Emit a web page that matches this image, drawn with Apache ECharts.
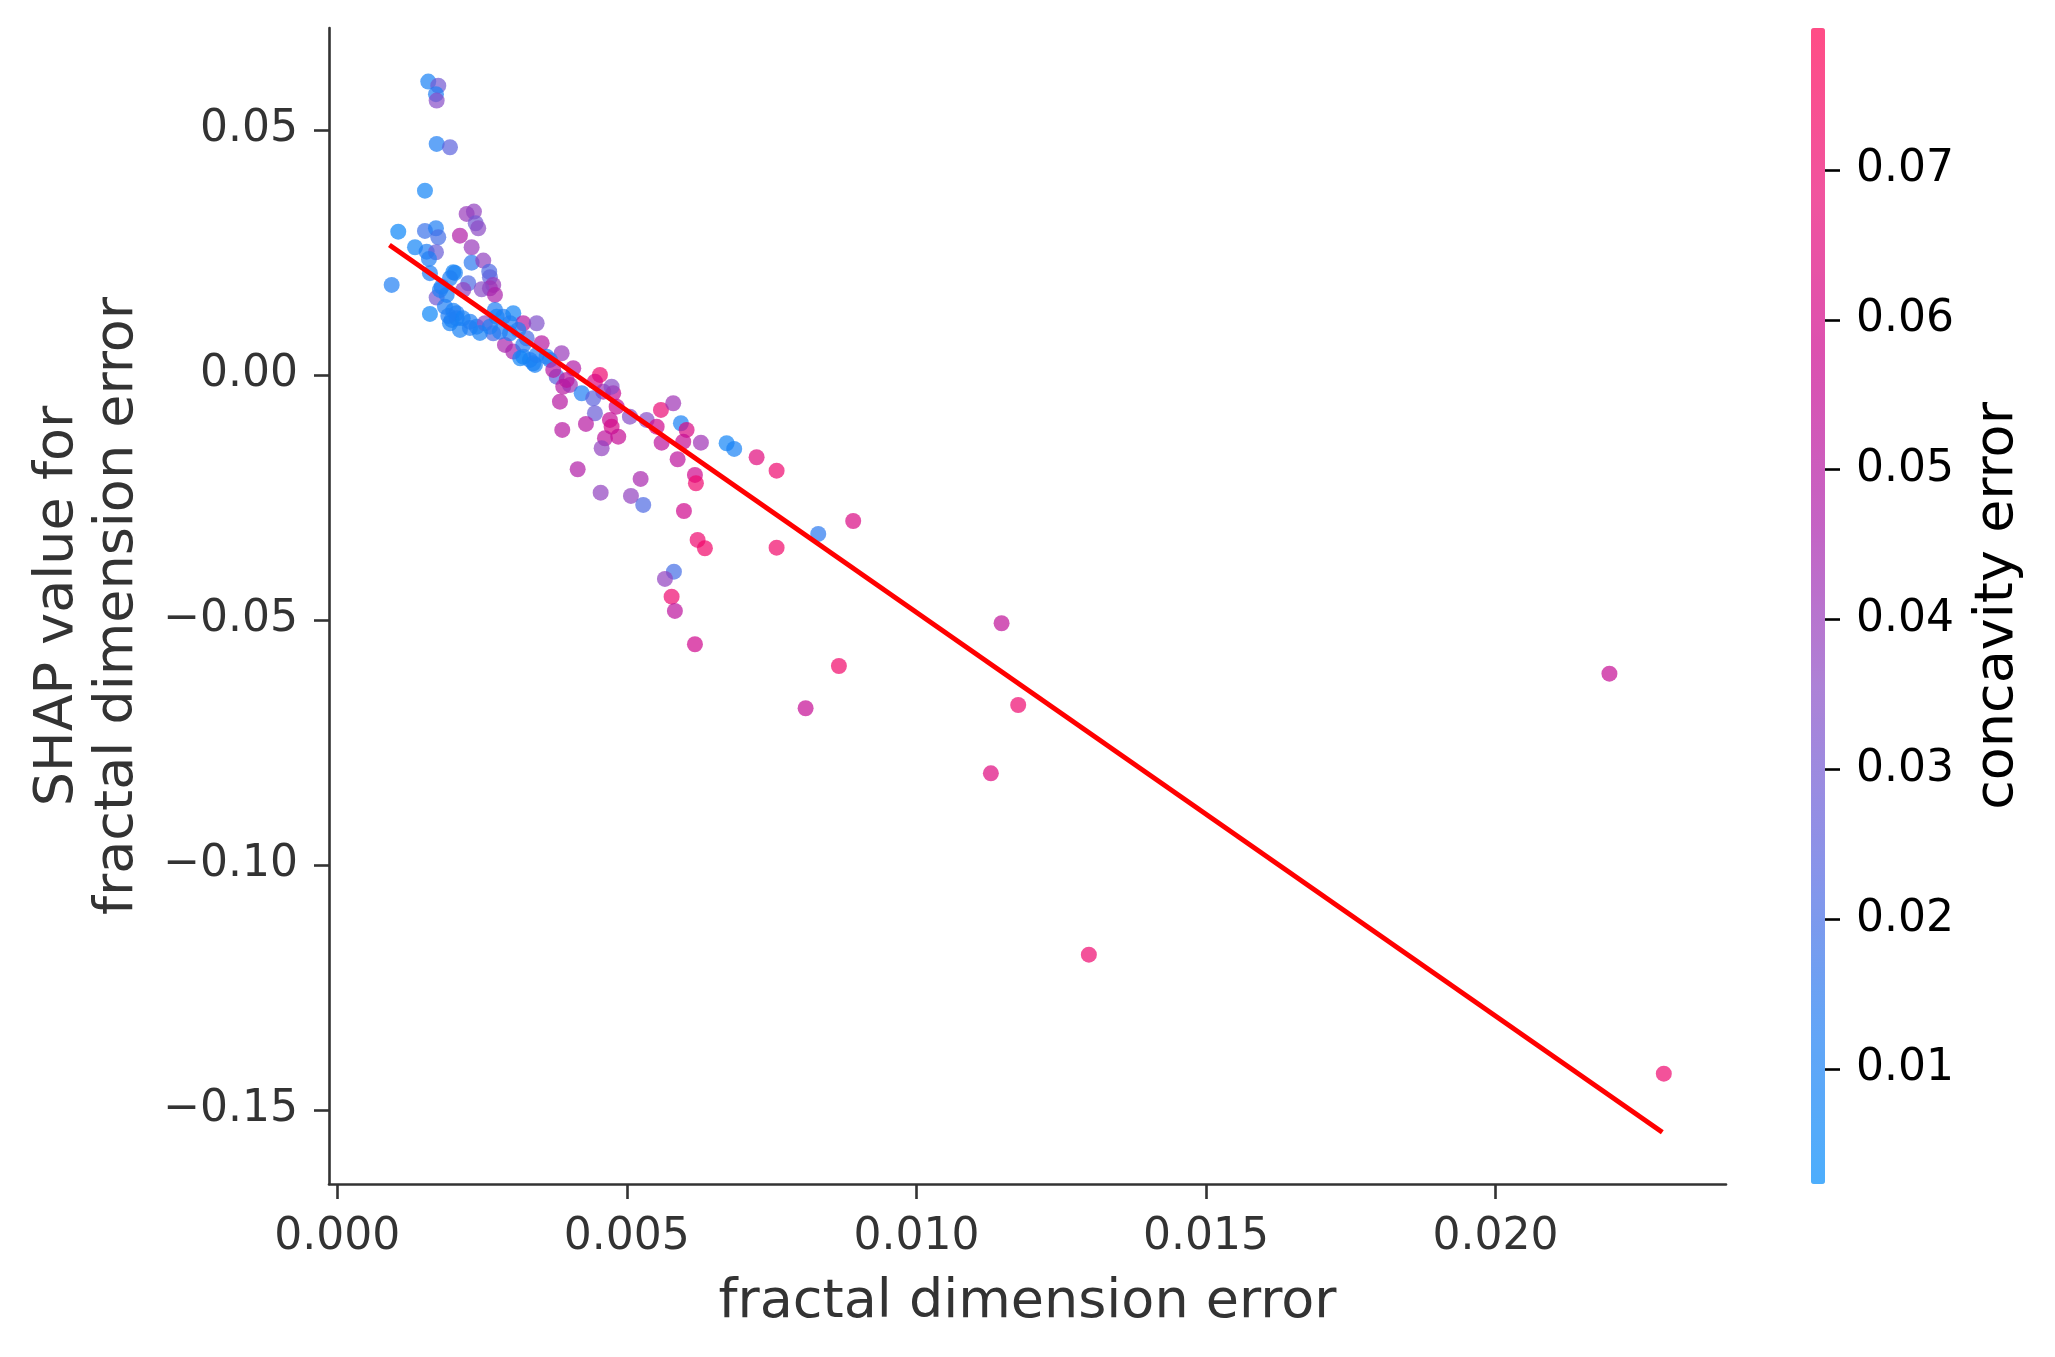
<!DOCTYPE html>
<html>
<head>
<meta charset="utf-8">
<script src="https://cdn.jsdelivr.net/npm/echarts@6/dist/echarts.min.js"></script>
<style>
html,body{margin:0;padding:0;background:#fff;}
#chart{width:2055px;height:1357px;}
</style>
</head>
<body>
<div id="chart"></div>
<script>
// fractal dimension error (x), SHAP value (y), concavity error (colour)
const fractalDim = [
0.001571,0.001744,0.001704,0.001716,0.001716,0.001946,0.001514,0.001053,0.002234,0.00236,
0.00239,0.002434,0.002118,0.001514,0.001704,0.001744,0.001342,0.00232,0.001543,0.001704,
0.001583,0.00232,0.002521,0.002624,0.002636,0.0016,0.002003,0.000939,0.002262,0.002693,
0.002636,0.002493,0.002175,0.001716,0.001802,0.001889,0.002723,0.0016,0.001859,0.002003,
0.001946,0.002118,0.002061,0.002291,0.002407,0.00255,0.002723,0.002866,0.003039,0.002693,
0.002895,0.003039,0.003211,0.003443,0.00327,0.003211,0.003327,0.003529,0.003874,0.004075,
0.004536,0.002982,0.003672,0.003413,0.003788,0.003902,0.004018,0.003845,0.004449,0.004593,
0.004765,0.004737,0.00422,0.00442,0.004449,0.004824,0.005053,0.004708,0.004737,0.004622,
0.004852,0.004565,0.004294,0.003885,0.005342,0.005515,0.005589,0.005801,0.005934,0.006032,
0.005974,0.005601,0.006279,0.006723,0.006854,0.005877,0.007241,0.007586,0.006176,0.006193,
0.005238,0.004151,0.004548,0.005071,0.005283,0.005986,0.006222,0.006348,0.007586,0.005813,
0.005658,0.005773,0.00583,0.006176,0.008909,0.008305,0.011471,0.008662,0.008087,0.011758,
0.011286,0.012978,0.021967,0.022906,0.002032,0.001773,0.001946,0.001975,0.002061,0.002636,
0.002752,0.002982,0.002809,0.003125,0.003211,0.003384,0.003443,0.003615,0.003729,0.003961,
0.003159,0.002166,0.002291,0.002464,0.001917
];
const shapValue = [
0.05986,0.05904,0.05729,0.05598,0.04714,0.04647,0.03761,0.02924,0.03286,0.03333,
0.03096,0.02994,0.02843,0.02939,0.02994,0.0281,0.02606,0.02606,0.02516,0.02504,
0.02367,0.02292,0.02333,0.02108,0.01994,0.02076,0.02096,0.01837,0.01871,0.01837,
0.01769,0.01749,0.01735,0.01578,0.01802,0.01633,0.01633,0.01245,0.01394,0.01312,
0.01055,0.00918,0.01157,0.01088,0.00986,0.01055,0.01327,0.0119,0.01259,0.00851,
0.00612,0.00476,0.01055,0.01055,0.00749,0.00373,0.00306,0.00647,0.00443,0.00137,
0.0,0.00851,0.00306,0.00204,-0.00035,-0.00239,-0.00204,-0.00545,-0.00137,-0.00341,
-0.00373,-0.00239,-0.00373,-0.00476,-0.00782,-0.00647,-0.00851,-0.00918,-0.01055,-0.01292,
-0.01259,-0.01496,-0.01,-0.01122,-0.00918,-0.01055,-0.00714,-0.00578,-0.00986,-0.01122,
-0.01361,-0.01382,-0.01382,-0.01394,-0.0151,-0.0172,-0.0168,-0.01953,-0.02041,-0.0221,
-0.02122,-0.01924,-0.02402,-0.02469,-0.02653,-0.02776,-0.03367,-0.03537,-0.03524,-0.04014,
-0.04163,-0.04524,-0.04816,-0.05496,-0.0298,-0.03245,-0.05067,-0.05939,-0.06802,-0.06735,
-0.08129,-0.1183,-0.06096,-0.14259,0.02082,0.01735,0.01973,0.01122,0.01259,0.00986,
0.0119,0.01055,0.00884,0.00918,0.00612,0.00239,0.00408,0.00373,0.00102,-0.00102,
0.00341,0.01157,0.00959,0.00857,0.01204
];
const concavity = [
0.010,0.030,0.012,0.035,0.012,0.025,0.008,0.006,0.040,0.038,
0.030,0.036,0.048,0.018,0.012,0.020,0.008,0.040,0.012,0.028,
0.012,0.015,0.038,0.022,0.025,0.012,0.008,0.012,0.022,0.040,
0.042,0.035,0.038,0.030,0.012,0.010,0.046,0.006,0.012,0.010,
0.010,0.010,0.012,0.012,0.012,0.035,0.012,0.012,0.008,0.022,
0.045,0.045,0.050,0.033,0.022,0.008,0.012,0.050,0.040,0.048,
0.070,0.012,0.012,0.010,0.025,0.050,0.042,0.050,0.062,0.042,
0.055,0.035,0.012,0.025,0.028,0.055,0.035,0.055,0.060,0.052,
0.055,0.038,0.050,0.050,0.035,0.058,0.068,0.042,0.010,0.062,
0.055,0.052,0.042,0.008,0.010,0.052,0.065,0.070,0.058,0.070,
0.045,0.048,0.038,0.038,0.022,0.058,0.070,0.072,0.072,0.020,
0.038,0.070,0.052,0.058,0.062,0.015,0.053,0.072,0.055,0.070,
0.064,0.070,0.055,0.070,0.010,0.012,0.012,0.010,0.012,0.012,
0.010,0.012,0.012,0.012,0.014,0.010,0.012,0.012,0.050,0.052,
0.008,0.010,0.012,0.010,0.012
];
// fitted trend line endpoints
const trendX = [0.00090, 0.02288];
const trendY = [0.02653, -0.15455];
// tick labels
const xTicks = [0, 0.005, 0.010, 0.015, 0.020];
const yTicks = [-0.15, -0.10, -0.05, 0.00, 0.05];
const cTicks = [0.01, 0.02, 0.03, 0.04, 0.05, 0.06, 0.07];
const cMin = 0.00232, cMax = 0.07948;

const pts = fractalDim.map((x, i) => [x, shapValue[i], concavity[i]]);
const trend = trendX.map((x, i) => [x, trendY[i]]);

const FONT = 'DejaVu Sans';
const minus = s => s.replace('-', '\u2212');

const chart = echarts.init(document.getElementById('chart'), null, {renderer: 'canvas'});
chart.setOption({
  animation: false,
  backgroundColor: '#ffffff',
  textStyle: {fontFamily: FONT},
  grid: [
    {left: 329, top: 28, right: 329, bottom: 173, containLabel: false},
    {left: 1811, top: 28, width: 14, height: 1156, containLabel: false, z: 5}
  ],
  xAxis: [{
    type: 'value', gridIndex: 0, min: -0.000143, max: 0.02398,
    axisLine: {show: true, onZero: false, lineStyle: {color: '#333333', width: 2.6}},
    axisTick: {show: true, length: 15, customValues: xTicks, lineStyle: {color: '#333333', width: 2.6}},
    axisLabel: {customValues: xTicks, formatter: v => minus(v.toFixed(3)), color: '#333333', fontSize: 44, fontFamily: FONT, margin: 32},
    splitLine: {show: false},
    name: 'fractal dimension error', nameLocation: 'middle', nameGap: 92,
    nameTextStyle: {fontSize: 54, color: '#333333', fontFamily: FONT}
  }, {
    type: 'value', gridIndex: 1, min: 0, max: 1, show: false
  }],
  yAxis: [{
    type: 'value', gridIndex: 0, min: -0.1651, max: 0.0708,
    axisLine: {show: true, onZero: false, lineStyle: {color: '#333333', width: 2.6}},
    axisTick: {show: true, length: 15, customValues: yTicks, lineStyle: {color: '#333333', width: 2.6}},
    axisLabel: {customValues: yTicks, formatter: v => minus(v.toFixed(2)), color: '#333333', fontSize: 44, fontFamily: FONT, margin: 31},
    splitLine: {show: false},
    name: 'SHAP value for\nfractal dimension error', nameLocation: 'middle', nameRotate: 90, nameGap: 181,
    nameTextStyle: {fontSize: 54, lineHeight: 60, color: '#333333', fontFamily: FONT, align: 'center'}
  }, {
    type: 'value', gridIndex: 1, position: 'right', min: cMin, max: cMax, z: 10,
    axisLine: {show: true, onZero: false, lineStyle: {color: 'rgba(0,0,0,0)', width: 0}},
    axisTick: {show: true, inside: false, length: 15, customValues: cTicks, lineStyle: {color: '#000000', width: 2.6}},
    axisLabel: {customValues: cTicks, formatter: v => v.toFixed(2), color: '#000000', fontSize: 44, fontFamily: FONT, margin: 31},
    splitLine: {show: false},
    name: 'concavity error', nameLocation: 'middle', nameRotate: 90, nameGap: 146,
    nameTextStyle: {fontSize: 54, color: '#000000', fontFamily: FONT}
  }],
  visualMap: [{
    type: 'continuous', seriesIndex: 0, dimension: 2, min: cMin, max: cMax,
    left: 1811, top: 28, itemWidth: 14, itemHeight: 1156, padding: 0,
    calculable: false, hoverLink: false, orient: 'vertical', z: 1,
    inRange: {color: ['#008bfb', '#237df2', '#5a64de', '#8a4cc6', '#ac20aa', '#cc078e', '#eb0a74', '#ff0052']},
    controller: {inRange: {color: ['#4daefc', '#65a4f6', '#8c92e8', '#ad82d7', '#c563c4', '#db51b0', '#f1549e', '#ff4d86']}}
  }],
  series: [{
    type: 'scatter', xAxisIndex: 0, yAxisIndex: 0,
    data: pts, symbol: 'circle', symbolSize: 16,
    itemStyle: {opacity: 0.7, borderWidth: 0},
    emphasis: {disabled: true}, z: 2
  }, {
    type: 'line', xAxisIndex: 0, yAxisIndex: 0,
    data: trend, symbol: 'none',
    lineStyle: {color: '#ff0000', width: 5},
    emphasis: {disabled: true}, z: 3
  }]
});
</script>
</body>
</html>
